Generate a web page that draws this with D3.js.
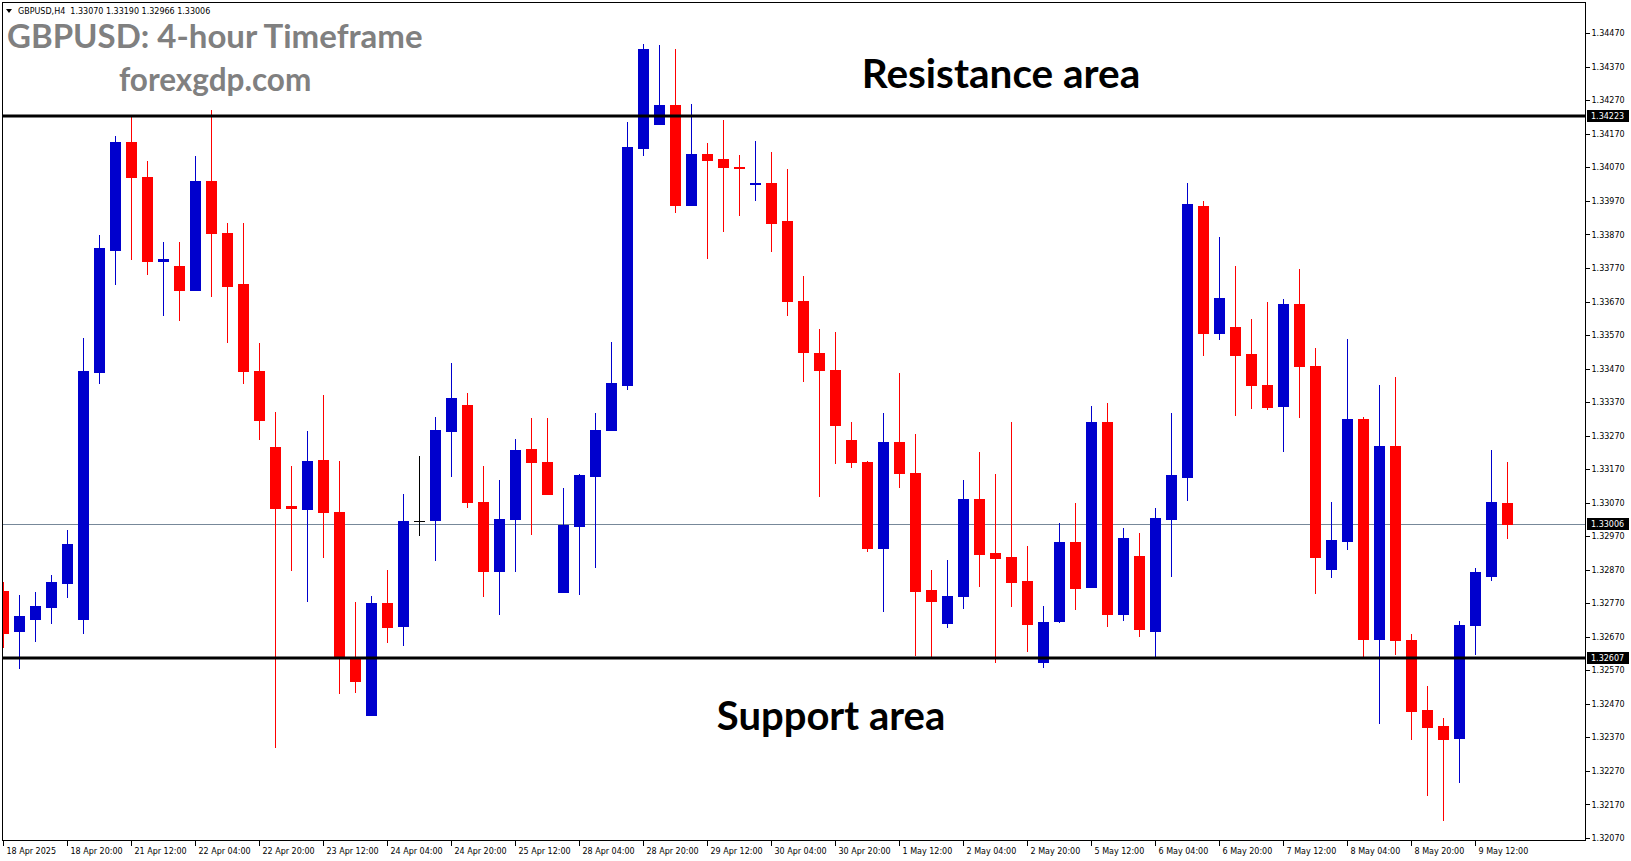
<!DOCTYPE html>
<html><head><meta charset="utf-8">
<script src="https://cdn.jsdelivr.net/npm/d3@7"></script>
<style>html,body{margin:0;padding:0;background:#fff;overflow:hidden}</style>
</head><body><svg id="chart" width="1631" height="861"></svg>
<script>
// ---- data (GBPUSD H4, 18 Apr 2025 04:00 -> 9 May 2025 20:00) ----
const openP = [1.32808,1.32686,1.32722,1.32758,1.32832,1.32722,1.33461,1.33825,1.34147,1.34042,
1.33791,1.33776,1.33704,1.34028,1.33875,1.33723,1.33463,1.33235,1.33059,1.33052,
1.33198,1.33043,1.32604,1.32438,1.32772,1.32703,1.33015,1.33019,1.33284,1.33361,
1.33073,1.32867,1.33022,1.33230,1.33192,1.32805,1.33001,1.33151,1.33286,1.33422,
1.34129,1.34200,1.34256,1.33958,1.34109,1.34094,1.34070,1.34022,1.34025,1.33909,
1.33673,1.33517,1.33467,1.33258,1.33192,1.32936,1.33250,1.33160,1.32809,1.32710,
1.32791,1.33082,1.32920,1.32908,1.32836,1.32595,1.32716,1.32953,1.32818,1.33310,
1.32737,1.32911,1.32686,1.33022,1.33148,1.33954,1.33577,1.33595,1.33515,1.33420,
1.33358,1.33663,1.33479,1.32871,1.32955,1.33321,1.32663,1.33239,1.32662,1.32452,
1.32403,1.32369,1.32706,1.32852,1.33070];
const highP = [1.32835,1.32794,1.32804,1.32854,1.32988,1.33561,1.33869,1.34164,1.34219,1.34089,
1.33848,1.33848,1.34103,1.34241,1.33905,1.33905,1.33546,1.33340,1.33179,1.33284,
1.33391,1.33195,1.32775,1.32793,1.32870,1.33096,1.33209,1.33326,1.33486,1.33397,
1.33180,1.33138,1.33260,1.33323,1.33323,1.33114,1.33156,1.33338,1.33548,1.34206,
1.34437,1.34435,1.34423,1.34259,1.34144,1.34211,1.34107,1.34149,1.34115,1.34065,
1.33745,1.33589,1.33580,1.33312,1.33195,1.33337,1.33457,1.33274,1.32869,1.32899,
1.33139,1.33220,1.33157,1.33310,1.32941,1.32761,1.33010,1.33070,1.33358,1.33367,
1.32995,1.32980,1.33055,1.33337,1.34024,1.33969,1.33862,1.33776,1.33618,1.33669,
1.33678,1.33768,1.33530,1.33073,1.33559,1.33327,1.33420,1.33446,1.32677,1.32522,
1.32427,1.32716,1.32874,1.33228,1.33190];
const lowP = [1.32639,1.32578,1.32657,1.32710,1.32790,1.32680,1.33426,1.33723,1.33796,1.33753,
1.33631,1.33615,1.33704,1.33686,1.33550,1.33426,1.33259,1.32340,1.32869,1.32778,
1.32907,1.32502,1.32505,1.32438,1.32654,1.32647,1.32974,1.32900,1.33150,1.33058,
1.32793,1.32739,1.32867,1.32977,1.33096,1.32805,1.32799,1.32879,1.33286,1.33408,
1.34108,1.34200,1.33937,1.33958,1.33800,1.33879,1.33928,1.33973,1.33821,1.33629,
1.33433,1.33089,1.33187,1.33176,1.32927,1.32746,1.33118,1.32615,1.32613,1.32698,
1.32755,1.32821,1.32595,1.32761,1.32629,1.32579,1.32713,1.32752,1.32818,1.32701,
1.32719,1.32671,1.32610,1.32852,1.33078,1.33512,1.33559,1.33331,1.33352,1.33350,
1.33224,1.33325,1.32800,1.32847,1.32933,1.32609,1.32414,1.32618,1.32366,1.32199,
1.32123,1.32238,1.32620,1.32840,1.32966];
const closeP = [1.32680,1.32732,1.32761,1.32833,1.32948,1.33463,1.33830,1.34147,1.34040,1.33790,
1.33798,1.33704,1.34028,1.33873,1.33717,1.33463,1.33317,1.33055,1.33055,1.33195,
1.33041,1.32611,1.32538,1.32772,1.32700,1.33016,1.33015,1.33287,1.33382,1.33071,
1.32867,1.33022,1.33227,1.33192,1.33096,1.33004,1.33153,1.33287,1.33426,1.34130,
1.34423,1.34256,1.33958,1.34109,1.34093,1.34072,1.34067,1.34024,1.33904,1.33671,
1.33519,1.33465,1.33301,1.33191,1.32936,1.33250,1.33160,1.32806,1.32776,1.32791,
1.33082,1.32917,1.32905,1.32833,1.32707,1.32713,1.32953,1.32815,1.33310,1.32737,
1.32965,1.32692,1.33025,1.33153,1.33960,1.33575,1.33682,1.33512,1.33420,1.33354,
1.33663,1.33477,1.32907,1.32959,1.33321,1.32663,1.33239,1.32660,1.32449,1.32402,
1.32366,1.32706,1.32862,1.33073,1.33006];
const timeLabels = ["18 Apr 2025","18 Apr 20:00","21 Apr 12:00","22 Apr 04:00","22 Apr 20:00","23 Apr 12:00",
"24 Apr 04:00","24 Apr 20:00","25 Apr 12:00","28 Apr 04:00","28 Apr 20:00","29 Apr 12:00","30 Apr 04:00",
"30 Apr 20:00","1 May 12:00","2 May 04:00","2 May 20:00","5 May 12:00","6 May 04:00","6 May 20:00",
"7 May 12:00","8 May 04:00","8 May 20:00","9 May 12:00"];
const labelEvery = 4;
const priceTicks = [1.32070,1.32170,1.32270,1.32370,1.32470,1.32570,1.32670,1.32770,1.32870,1.32970,
1.33070,1.33170,1.33270,1.33370,1.33470,1.33570,1.33670,1.33770,1.33870,1.33970,1.34070,1.34170,
1.34270,1.34370,1.34470];
const levels = [1.34223, 1.32607];
const bidPrice = 1.33006;
const symbolHeader = "GBPUSD,H4  1.33070 1.33190 1.32966 1.33006";

// ---- layout ----
const L = 2, T = 2, R = 1585, B = 840;
const svg = d3.select("#chart");
const x = d3.scaleLinear().domain([0, openP.length - 1]).range([3, 1507]);
const y = d3.scaleLinear().domain([1.32070, 1.34470]).range([838, 33.3]);
const UP = "#0000CD", DN = "#FF0000";
const axisFont = "DejaVu Sans";

svg.append("defs").append("clipPath").attr("id","plot")
  .append("rect").attr("x",L).attr("y",T).attr("width",R-L).attr("height",B-T);

const plot = svg.append("g").attr("clip-path","url(#plot)");

// bid line
plot.append("line").attr("x1",L).attr("x2",R).attr("y1",Math.round(y(bidPrice))+0.5).attr("y2",Math.round(y(bidPrice))+0.5)
  .attr("stroke","#778899").attr("stroke-width",1).attr("shape-rendering","crispEdges");

// candles
const idx = d3.range(openP.length);
const cg = plot.append("g").attr("shape-rendering","crispEdges");
idx.forEach(i => {
  const o = openP[i], c = closeP[i], h = highP[i], l = lowP[i];
  const col = c > o ? UP : (c < o ? DN : "#000");
  const cx = Math.round(x(i));
  cg.append("line").attr("x1",cx+0.5).attr("x2",cx+0.5)
    .attr("y1",Math.round(y(h))).attr("y2",Math.round(y(l))+1).attr("stroke",col).attr("stroke-width",1);
  const yt = Math.round(y(Math.max(o,c))), yb = Math.round(y(Math.min(o,c)));
  cg.append("rect").attr("x",cx-5).attr("width",11)
    .attr("y",yt).attr("height",Math.max(1,yb-yt+1)).attr("fill",col);
});

// horizontal levels
levels.forEach(v => {
  plot.append("line").attr("x1",L).attr("x2",R).attr("y1",y(v)).attr("y2",y(v))
    .attr("stroke","#000").attr("stroke-width",3);
});

// frame
svg.append("rect").attr("x",L+0.5).attr("y",T+0.5).attr("width",R-L).attr("height",B-T)
  .attr("fill","none").attr("stroke","#000").attr("stroke-width",1).attr("shape-rendering","crispEdges");

// right axis
const yAxis = d3.axisRight(y).tickValues(priceTicks).tickFormat(d3.format(".5f")).tickSize(4).tickPadding(2).tickSizeOuter(0);
const ya = svg.append("g").attr("transform",`translate(${R+0.5},0)`).call(yAxis);
ya.select(".domain").remove();
ya.selectAll(".tick line").attr("stroke","#000").attr("shape-rendering","crispEdges");
ya.selectAll(".tick text").attr("font-family",axisFont).attr("font-size",8).attr("fill","#000");

// bottom axis
const xAxis = d3.axisBottom(x).tickValues(timeLabels.map((d,i)=>i*labelEvery))
  .tickFormat((d,i)=>timeLabels[i]).tickSize(4).tickSizeOuter(0);
const xa = svg.append("g").attr("transform",`translate(0,${B+0.5})`).call(xAxis);
xa.select(".domain").remove();
xa.selectAll(".tick line").attr("stroke","#000").attr("shape-rendering","crispEdges").attr("y2",5);
xa.selectAll(".tick text").attr("font-family",axisFont).attr("font-size",8).attr("fill","#000")
  .attr("text-anchor","start").attr("dx",3).attr("dy",0).attr("y",13);

// highlighted price labels
[...levels, bidPrice].forEach(v => {
  const yy = y(v);
  svg.append("rect").attr("x",R+2).attr("y",Math.round(yy)-6).attr("width",42).attr("height",12).attr("fill","#000");
  svg.append("text").attr("x",R+6).attr("y",yy).attr("dy","0.32em")
    .attr("font-family",axisFont).attr("font-size",8).attr("fill","#fff").text(d3.format(".5f")(v));
});

// header
svg.append("path").attr("d","M6,9 L12,9 L9,13 Z").attr("fill","#000");
svg.append("text").attr("x",18).attr("y",14).attr("font-family",axisFont).attr("font-size",8).attr("fill","#000")
  .attr("xml:space","preserve").style("white-space","pre").text(symbolHeader);

// annotations
svg.append("text").attr("x",7).attr("y",48).attr("font-family","Lato").attr("font-weight",700)
  .attr("font-size",33).attr("fill","#808080").text("GBPUSD: 4-hour Timeframe");
svg.append("text").attr("x",119).attr("y",91).attr("font-family","Lato").attr("font-weight",700)
  .attr("font-size",31.5).attr("fill","#808080").text("forexgdp.com");
svg.append("text").attr("x",1001).attr("y",88).attr("text-anchor","middle").attr("font-family","Lato").attr("font-weight",700)
  .attr("font-size",40.5).attr("fill","#000").text("Resistance area");
svg.append("text").attr("x",831).attr("y",730).attr("text-anchor","middle").attr("font-family","Lato").attr("font-weight",700)
  .attr("font-size",40).attr("fill","#000").text("Support area");
</script></body></html>
